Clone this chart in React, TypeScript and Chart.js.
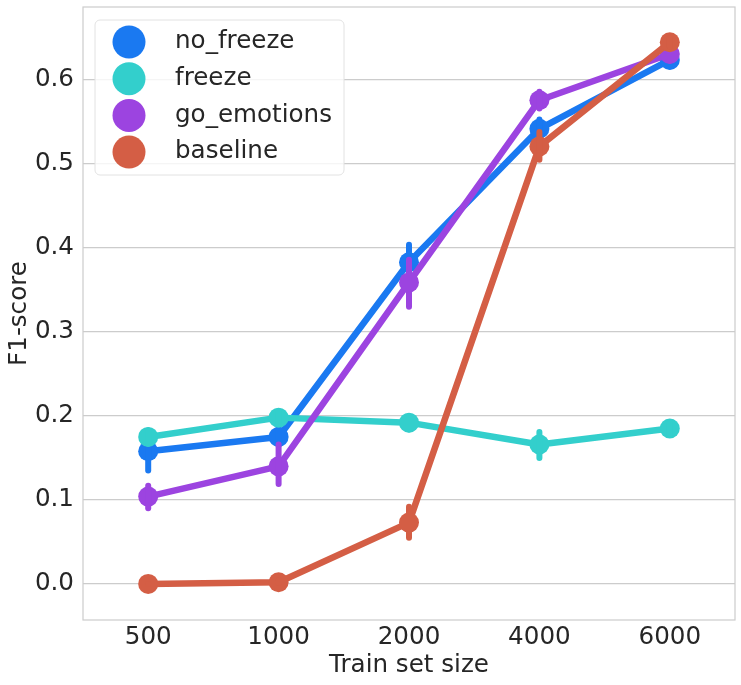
import React, { useEffect, useRef } from 'react';
import { Chart, registerables } from 'chart.js';

Chart.register(...registerables);

const trainSizes = ['500', '1000', '2000', '4000', '6000'];
const seriesNames = ['no_freeze', 'freeze', 'go_emotions', 'baseline'];
const seriesColors = ['#1a79f1', '#33cfcc', '#9c44e0', '#d45e45'];

// point estimates
const noFreeze = [0.158, 0.175, 0.383, 0.542, 0.624];
const freeze = [0.175, 0.198, 0.192, 0.166, 0.185];
const goEmotions = [0.104, 0.140, 0.359, 0.576, 0.631];
const baseline = [0.0, 0.002, 0.073, 0.521, 0.645];

// confidence intervals (low / high)
const noFreezeLow = [0.135, 0.165, 0.365, 0.532, 0.616];
const noFreezeHigh = [0.178, 0.186, 0.404, 0.553, 0.632];
const freezeLow = [0.167, 0.191, 0.184, 0.150, 0.178];
const freezeHigh = [0.183, 0.206, 0.200, 0.181, 0.192];
const goEmotionsLow = [0.090, 0.119, 0.330, 0.566, 0.623];
const goEmotionsHigh = [0.117, 0.166, 0.386, 0.586, 0.639];
const baselineLow = [0.0, 0.001, 0.055, 0.505, 0.640];
const baselineHigh = [0.0, 0.004, 0.092, 0.538, 0.650];

const yTicks = [0.0, 0.1, 0.2, 0.3, 0.4, 0.5, 0.6];

const values = [noFreeze, freeze, goEmotions, baseline];
const lows = [noFreezeLow, freezeLow, goEmotionsLow, baselineLow];
const highs = [noFreezeHigh, freezeHigh, goEmotionsHigh, baselineHigh];

const FONT = '"DejaVu Sans", sans-serif';
const FSIZE = 24.6;
const TEXT = '#262626';
const GRID = '#cccccc';

const errorBars = {
  id: 'errorBars',
  afterDatasetDraw(chart: any, args: any) {
    const i = args.index;
    const meta = args.meta;
    const y = chart.scales.y;
    const ctx = chart.ctx;
    ctx.save();
    ctx.strokeStyle = seriesColors[i];
    ctx.lineWidth = 6;
    ctx.lineCap = 'round';
    meta.data.forEach((pt: any, k: number) => {
      ctx.beginPath();
      ctx.moveTo(pt.x, y.getPixelForValue(lows[i][k]));
      ctx.lineTo(pt.x, y.getPixelForValue(highs[i][k]));
      ctx.stroke();
    });
    ctx.restore();
  },
};

const frameAndLegend = {
  id: 'frameAndLegend',
  afterDraw(chart: any) {
    const { ctx, chartArea } = chart;
    ctx.save();
    ctx.strokeStyle = GRID;
    ctx.lineWidth = 1.2;
    ctx.strokeRect(chartArea.left, chartArea.top, chartArea.right - chartArea.left, chartArea.bottom - chartArea.top);

    // legend box
    const bx = chartArea.left + 12;
    const by = chartArea.top + 13;
    const bw = 249;
    const bh = 155;
    ctx.beginPath();
    ctx.roundRect(bx, by, bw, bh, 5);
    ctx.fillStyle = 'rgba(255,255,255,0.8)';
    ctx.fill();
    ctx.strokeStyle = '#e2e2e2';
    ctx.lineWidth = 1;
    ctx.stroke();

    ctx.font = `${FSIZE}px ${FONT}`;
    ctx.textBaseline = 'middle';
    ctx.textAlign = 'left';
    seriesNames.forEach((name, i) => {
      const cy = by + 22 + i * 36.7;
      ctx.beginPath();
      ctx.arc(bx + 34, cy, 16.5, 0, Math.PI * 2);
      ctx.fillStyle = seriesColors[i];
      ctx.fill();
      ctx.fillStyle = TEXT;
      ctx.fillText(name, bx + 80, cy);
    });
    ctx.restore();
  },
};

const App: React.FC = () => {
  const canvasRef = useRef<HTMLCanvasElement>(null);
  const chartRef = useRef<Chart | null>(null);

  useEffect(() => {
    document.body.style.margin = '0';
    if (chartRef.current) chartRef.current.destroy();
    if (!canvasRef.current) return;

    chartRef.current = new Chart(canvasRef.current, {
      type: 'line',
      data: {
        labels: trainSizes,
        datasets: seriesNames.map((name, i) => ({
          label: name,
          data: values[i],
          borderColor: seriesColors[i],
          backgroundColor: seriesColors[i],
          pointBackgroundColor: seriesColors[i],
          pointBorderWidth: 0,
          pointRadius: 10,
          borderWidth: 6.5,
          borderJoinStyle: 'round' as const,
          borderCapStyle: 'round' as const,
          tension: 0,
          clip: false,
          order: seriesNames.length - 1 - i,
        })),
      },
      options: {
        responsive: true,
        maintainAspectRatio: false,
        animation: false,
        layout: { autoPadding: false, padding: { top: 7, right: 6, left: 0, bottom: 0 } },
        plugins: {
          legend: { display: false },
          tooltip: { enabled: false },
        },
        scales: {
          x: {
            offset: true,
            grid: { display: false, drawTicks: false },
            border: { display: false },
            ticks: { color: TEXT, font: { family: FONT, size: FSIZE }, padding: 3 },
            title: {
              display: true,
              text: 'Train set size',
              color: TEXT,
              font: { family: FONT, size: FSIZE },
              padding: { top: 0, bottom: 5 },
            },
            afterFit: (scale: any) => {
              scale.height = 65;
              scale.paddingLeft = 0;
              scale.paddingRight = 0;
            },
          },
          y: {
            min: -0.043,
            max: 0.687,
            grid: { color: GRID, lineWidth: 1.2, drawTicks: false },
            border: { display: false },
            ticks: {
              stepSize: 0.1,
              includeBounds: false,
              color: TEXT,
              font: { family: FONT, size: FSIZE },
              padding: 9,
              callback: (v: any) => (yTicks.some((t) => Math.abs(t - v) < 1e-6) ? Number(v).toFixed(1) : ''),
            },
            title: {
              display: true,
              text: 'F1-score',
              color: TEXT,
              font: { family: FONT, size: FSIZE },
              padding: { top: 5, bottom: 0 },
            },
            afterFit: (scale: any) => {
              scale.width = 83;
              scale.paddingTop = 0;
              scale.paddingBottom = 0;
            },
          },
        },
      },
      plugins: [errorBars, frameAndLegend],
    });

    return () => {
      if (chartRef.current) {
        chartRef.current.destroy();
        chartRef.current = null;
      }
    };
  }, []);

  return (
    <div style={{ width: 741, height: 685, position: 'relative', background: '#fff' }}>
      <canvas ref={canvasRef}></canvas>
    </div>
  );
};

export default App;
